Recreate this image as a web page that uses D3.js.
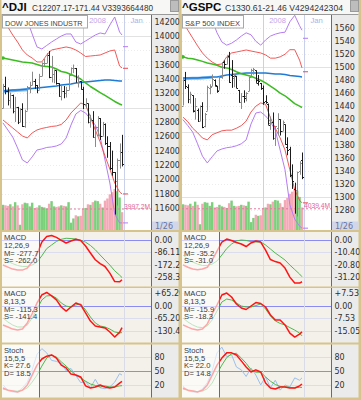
<!DOCTYPE html>
<html><head><meta charset="utf-8">
<script src="https://cdn.jsdelivr.net/npm/d3@7/dist/d3.min.js"></script>
<style>html,body{margin:0;padding:0;background:#d6c48c;}svg{display:block;}</style>
</head><body>
<svg id="chart" width="361" height="400"></svg>
<script>
// ---------- shared time axis ----------
const days = ["11/13","11/14","11/15","11/16","11/19","11/20","11/21","11/23","11/26","11/27","11/28","11/29","11/30","12/3","12/4","12/5","12/6","12/7","12/10","12/11","12/12","12/13","12/14","12/17","12/18","12/19","12/20","12/21","12/24","12/26","12/27","12/28","12/31","1/2","1/3","1/4","1/7","1/8","1/9","1/10","1/11","1/14","1/15","1/16","1/17","1/18","1/22","1/23","1/24","1/25"];
const gridIdx = [33, 50];
const gridLabels = ["2008", "Jan"];
const lastDateLabel = "1/26";
const lineIdx = [0,2,4,6,8,10,12,14,16,18,20,22,24,26,28,30,32,34,36,38,40,42,44,46,48,49];
const thickIdxL = [0,2,4,6,8,10];
const thickIdxR = [0,2,4,6,8,10,12];

// ---------- ^DJI ----------
const djiOpen  = [12990,13307,13231,13110,13177,12958,13010,12799,12981,12743,12958,13289,13312,13372,13315,13249,13445,13620,13626,13727,13433,13474,13518,13340,13167,13232,13207,13246,13451,13549,13552,13360,13366,13265,13044,13057,12800,12827,12589,12735,12853,12606,12778,12501,12466,12159,12099,11971,12270,12379];
const djiHigh  = [13330,13430,13280,13210,13180,13150,13010,12990,13060,12970,13300,13360,13500,13400,13315,13470,13630,13680,13760,13790,13720,13530,13518,13340,13320,13300,13290,13470,13560,13600,13552,13450,13366,13290,13130,13057,12900,12950,12740,12880,12853,12800,12778,12600,12520,12400,12100,12290,12500,12620];
const djiLow   = [12990,13185,13030,12990,12920,12800,12770,12799,12730,12720,12958,13200,13310,13260,13200,13249,13440,13580,13620,13410,13350,13340,13320,13150,13100,13130,13140,13246,13450,13480,13350,13280,13250,12980,12990,12780,12720,12580,12450,12600,12550,12606,12480,12300,12130,12050,11508,11634,12150,12180];
const djiClose = [13307,13231,13110,13177,12958,13010,12799,12981,12743,12958,13289,13312,13372,13315,13249,13445,13620,13626,13727,13433,13474,13518,13340,13167,13232,13207,13246,13451,13549,13552,13360,13366,13265,13044,13057,12800,12827,12589,12735,12853,12606,12778,12501,12466,12159,12099,11971,12270,12379,12207.17];
const djiVol   = [4800,4700,4600,4900,4500,5300,4700,1000,4900,5200,5100,4500,5200,4200,4300,4700,4400,4300,4100,5000,5500,4500,4400,4500,4700,4600,4500,5300,1400,2200,2800,2600,2700,4100,4200,4900,4800,5300,5600,5500,5000,4300,5600,6000,6800,7200,7800,7400,6200,3394];
const djiTicks = [14200,14000,13800,13600,13400,13200,13000,12800,12600,12400,12200,12000,11800,11600];
const djiBandUp1 = [14221,14123,14012,13914,13803,13733,13691,13636,13636,13733,13803,13817,13831,13845,13831,13803,13761,13712,13719,13726,13733,13761,13789,13803,13580,13552];
const djiBandUp2 = [14709,14639,14569,14500,14388,14221,14026,13845,13817,13866,13914,13956,13998,14026,14026,13914,13886,13928,13970,14012,14040,14026,14151,14263,14054,14012];
const djiBandLo1 = [12827,12771,12716,12660,12604,12576,12646,12688,12709,12723,12737,12744,12765,12827,12925,12994,13064,13036,12869,12688,12521,12325,12143,11949,11824,11796];
const djiBandLo2 = [12785,12688,12590,12437,12270,12228,12312,12409,12423,12444,12451,12465,12493,12576,12757,12911,12960,12925,12841,12757,12590,12270,11949,11517,11392,11392];
const djiMA25 = [13691,13677,13663,13649,13636,13629,13622,13601,13580,13573,13566,13538,13503,13489,13461,13433,13399,13343,13294,13252,13210,13169,13127,13085,13050,13036];
const djiMA75 = [13231,13238,13245,13245,13252,13259,13266,13273,13280,13287,13294,13301,13315,13322,13329,13343,13350,13357,13364,13371,13378,13385,13385,13378,13371,13371];
const djiMA200 = [13225,13230,13236,13240,13245,13250];
const djiNext = [13849,13548,11796,11392];
const djiMacd = [-175,-189,-203,-210,-210,-196,-154,-98,-14,24,31,18,-2,-21,-7,5,-4,-42,-91,-138,-165,-185,-231,-290,-292,-277.7];
const djiSig  = [-130,-150,-165,-178,-185,-185,-175,-155,-110,-60,-35,-10,5,12,10,7,-2,-15,-38,-68,-105,-140,-175,-215,-245,-262.0];
const djiMacdB = [-102,-112,-123,-128,-123,-91,-44,13,55,68,50,29,-8,-29,-8,13,3,-39,-81,-107,-112,-117,-138,-164,-140,-115.3];
const djiSigB  = [-65,-86,-102,-112,-112,-102,-65,-18,29,50,52,39,13,-3,-8,3,8,-23,-60,-91,-107,-112,-123,-138,-143,-141.4];
const djiK  = [13.6,9,7,5,9,20,41,62,75,81,83.5,77,62,56,43,41,37,18,13.6,15.7,20,15.7,13.6,15.7,24,27.6];
const djiD  = [11,9,7,7,9,13.6,26,41,60,77,83.5,79,69,60,50,41,35,28,22,19,15.7,18,15.7,15.7,18,18.5];
const djiFK = [20,9,5,5,14,26,52,85,97,88,72,70,66,50,55,40,25,27,14,32,14,12,16,26,44,41];
const djiM1Ticks = [0,-86.11,-172.2,-258.3];
const djiM1Labels = ["0.00","-86.11","-172.2","-258.3"];
const djiM2Ticks = [65.2,0,-65.2,-130.4];
const djiM2Labels = ["+65.20","0.00","-65.20","-130.4"];

// ---------- ^GSPC ----------
const spxOpen  = [1441,1481,1470,1451,1456.7,1434.5,1434.7,1417,1440.7,1409.6,1432.9,1467.4,1471.8,1479.6,1471.3,1465.2,1484.6,1508.6,1505.1,1516.7,1487.6,1483.3,1486.2,1465,1445.9,1455,1456.4,1463.2,1484.6,1495.1,1495.1,1479.8,1475.3,1468,1447.6,1444,1414,1415.7,1390.3,1406.8,1419.9,1401.8,1411.9,1377.4,1374.6,1333.9,1312.9,1310.4,1340.1,1357.3];
const spxHigh  = [1481.4,1492.8,1473.6,1462.2,1456.7,1452.6,1436.4,1440.9,1446.1,1429.5,1471.6,1473.8,1488.9,1481.2,1471.3,1486.1,1508,1510.6,1518.3,1523.6,1511,1489.4,1486.7,1465,1460.2,1464.4,1461.5,1485.4,1497.6,1498.9,1495.1,1488,1475.8,1471.8,1456.8,1444,1423.9,1430.3,1409.2,1429.1,1419.9,1417.9,1411.9,1392,1377.4,1350.3,1322.1,1339.1,1355.2,1368.6];
const spxLow   = [1441,1466.5,1444.6,1443.9,1430.4,1419.3,1415.6,1417,1406.1,1407.4,1432.9,1458.4,1470.9,1470.1,1460.7,1465.2,1482.2,1497.7,1504.7,1475.8,1468.2,1469.2,1467.8,1445.4,1435.7,1445.3,1447.5,1463.2,1484.6,1488.5,1475.9,1471.7,1465.1,1442.1,1443.7,1411.2,1403.5,1388.3,1378.7,1395.3,1394.8,1401.8,1380.6,1364.3,1330.7,1312.5,1274.3,1270.05,1334.3,1327.5];
const spxClose = [1481.05,1470.58,1451.15,1458.74,1433.27,1439.70,1416.77,1440.70,1407.22,1428.23,1469.02,1469.72,1481.14,1472.42,1462.79,1485.01,1507.34,1504.66,1515.96,1477.65,1486.59,1488.41,1467.95,1445.90,1454.98,1453.00,1460.12,1484.46,1496.45,1497.66,1476.27,1478.49,1468.36,1447.16,1447.16,1411.63,1416.18,1390.19,1409.13,1420.33,1401.02,1416.25,1380.95,1373.20,1333.25,1325.19,1310.50,1338.60,1352.07,1330.61];
const spxVol   = [4900,4800,4700,5000,4600,5400,4800,1100,5000,5300,5200,4600,5300,4300,4400,4800,4500,4400,4200,5100,5600,4600,4500,4600,4800,4700,4600,5400,1500,2300,2900,2700,2800,4200,4300,5000,4900,5400,5700,5600,5100,4400,5700,6100,6900,7300,7900,7500,6300,4294];
const spxTicks = [1560,1540,1520,1500,1480,1460,1440,1420,1400,1380,1360,1340,1320,1300,1280];
const spxBandUp1 = [1570,1557,1545,1533,1522,1514,1508,1504,1505,1516,1522,1523.5,1525,1526.6,1525,1523.5,1522,1519,1514,1514,1516,1520,1527,1527,1511,1499];
const spxBandUp2 = [1634,1627,1619,1611,1604,1591,1573,1553,1539,1534,1537,1542,1548,1553,1550,1540,1534,1542,1548,1551,1553,1554,1570,1580,1564,1557];
const spxBandLo1 = [1423,1416,1406,1399,1391,1388,1396,1399,1402,1403,1403,1406,1410,1417,1431,1440,1445,1443,1422,1406,1391,1372.5,1342,1311,1295,1291];
const spxBandLo2 = [1419,1410,1400,1382,1363,1352.5,1362,1371,1374,1376,1377,1379,1382,1388,1412.5,1429.5,1431,1425,1416,1403,1372.5,1342,1288,1266,1255,1252];
const spxMA25 = [1516,1514,1513,1511,1509,1506.5,1505,1503,1500,1499,1496.5,1493,1490,1488,1486,1483,1480,1476,1471,1466,1460,1456,1450,1444,1440,1438];
const spxMA75 = [1483.4,1483.4,1483.4,1483.4,1484.2,1484.2,1485,1485,1486.5,1488,1488.8,1489.6,1490.4,1491.1,1491.1,1491.1,1491.1,1491.1,1490.4,1489.6,1489.6,1488.8,1487.3,1486.5,1485.7,1485];
const spxMA200 = [1482,1482.5,1483,1483,1483.5,1484,1484.5];
const spxNext = [1544.6,1493,1291,1252];
const spxMacd = [-21,-23,-24.5,-25,-24.5,-23,-17,-9.3,-1.7,0.8,-0.4,-2.1,-3.4,-5.5,-2.5,-0.8,-1.7,-8.5,-16.5,-18.2,-19.4,-23.7,-31.3,-36.3,-36.3,-35.2];
const spxSig  = [-12.7,-16,-18.6,-20.3,-21.5,-21.5,-20.3,-17.7,-12.7,-7.2,-3.4,-0.8,0,-0.4,-1.3,-1.7,-1.7,-4.2,-7.6,-11,-13.9,-16.9,-21.1,-24.9,-28.7,-31.0];
const spxMacdB = [-11.7,-13,-14.2,-14.8,-14.2,-11.1,-5.1,0.3,6.3,7.5,5.1,0.9,-1.5,-2.4,-0.3,1.8,1.2,-0.9,-5.7,-8.7,-8.7,-11.7,-16.6,-19,-17.2,-15.9];
const spxSigB  = [-7.5,-9.9,-11.7,-13,-13.3,-12.3,-8.7,-3.3,2.1,3.9,3.3,1.5,-0.3,-0.9,-0.9,0,0.9,-2.1,-6.3,-9.3,-10.8,-11.7,-13.3,-14.8,-16.6,-18.3];
const spxK  = [13.6,9,7,5,9,20,41,62,77,88,88,83.5,71,58,47.5,52,47.5,24,13.6,11.4,15.7,15.7,13.6,13.6,18,22.0];
const spxD  = [11,9,7,6,7,12,24,44,62,78,86,87,77,66,52,47,47,37,28,21,17,16,15,13.6,15,14.8];
const spxFK = [18,8,5,5,12,25,50,88,100,80,84,58,52,38,56,41,20,37,14,30,9,20,16,35,30,35];
const spxM1Ticks = [0,-10.40,-20.80,-31.20];
const spxM1Labels = ["0.00","-10.40","-20.80","-31.20"];
const spxM2Ticks = [7.53,0,-7.53,-15.05];
const spxM2Labels = ["+7.53","0.00","-7.53","-15.05"];

const stochTicks = [80,50,20];
const stochLabels = ["80","50","20"];

// ---------- drawing ----------
const svg = d3.select('#chart');
svg.append('rect').attr('width',361).attr('height',400).attr('fill','#d6c48c');
const defs = svg.append('defs');
const SANS = "'Liberation Sans', Arial, sans-serif";
const AXF = "'DejaVu Sans', Verdana, sans-serif";

function drawPanel(dx, c, id) {
  const g = svg.append('g').attr('transform', `translate(${dx},0)`);
  const PX0 = 2, PX1 = 151.5, AX1 = 178.5;
  const xs = d3.scaleLinear().domain([0, days.length - 1]).range([3, 122]);
  const clipRect = (name, x, y0, w, y1) => {
    defs.append('clipPath').attr('id', id + name).append('rect')
      .attr('x', x).attr('y', y0).attr('width', w).attr('height', y1 - y0);
    return `url(#${id + name})`;
  };
  const clip = (name, y0, y1) => clipRect(name, PX0, y0, PX1 - PX0, y1);
  const line = (ys) => d3.line().x(d => xs(d[0])).y(d => ys(d[1]));
  const pts = (idx, vals) => idx.map((k, j) => [k, vals[j]]);
  const drawLine = (gg, ys, idx, vals, col, w, op) =>
    gg.append('path').datum(pts(idx, vals)).attr('d', line(ys))
      .attr('fill','none').attr('stroke', col).attr('stroke-width', w)
      .attr('stroke-linejoin','round').attr('stroke-opacity', op || 1);
  const axis = (ys, ticks, labels, y0, y1, key) => {
    const holder = g.append('g').attr('clip-path', clipRect('ax' + key, PX1, y0, AX1 - PX1 + 1, y1));
    const a = holder.append('g').attr('transform', `translate(${PX1},0)`)
      .call(d3.axisRight(ys).tickValues(ticks).tickFormat((d, i) => labels[i]).tickSize(0).tickPadding(3));
    a.attr('font-family', AXF).attr('font-size', 8);
    a.select('.domain').remove();
    a.selectAll('text').attr('fill', '#2f2f2f');
  };
  const subBox = (y0, y1, bg) => {
    g.append('rect').attr('x', PX0).attr('y', y0).attr('width', PX1 - PX0).attr('height', y1 - y0).attr('fill', bg);
    g.append('rect').attr('x', PX1).attr('y', y0).attr('width', AX1 - PX1).attr('height', y1 - y0).attr('fill', '#ebebeb');
  };

  // title row
  g.append('rect').attr('x', 1.5).attr('y', 0).attr('width', AX1 - 1.5).attr('height', 14).attr('fill', '#f7f7f5');
  g.append('text').attr('x', 2).attr('y', 11).attr('font-family', SANS).attr('font-weight', 'bold')
    .attr('font-size', 11.5).attr('fill', '#0a0a0a').text(c.sym);
  g.append('text').attr('x', c.infoX).attr('y', 10.5).attr('font-family', SANS).attr('font-size', 8.2)
    .attr('fill', '#333').attr('textLength', c.infoLen).attr('lengthAdjust', 'spacingAndGlyphs').text(c.info);
  g.append('rect').attr('x', 170.5).attr('y', 0.5).attr('width', 8).attr('height', 11).attr('fill', '#bdbdbd').attr('stroke', '#9a9a9a');

  // ---- price panel ----
  const PT = 14, PB = 230;
  subBox(PT, PB, '#ffffff');
  const ys = d3.scaleLinear().domain(c.pDom).range(c.pRange);
  const vy = d3.scaleLinear().domain([0, 8000]).range([PB, 188]);
  const gp = g.append('g').attr('clip-path', clip('p', PT, PB));
  gp.selectAll('line.hg').data(c.pTicks).join('line')
    .attr('x1', PX0).attr('x2', PX1).attr('y1', d => Math.round(ys(d)) + 0.5).attr('y2', d => Math.round(ys(d)) + 0.5)
    .attr('stroke', d => d % c.pMajor === 0 ? '#e2e2e2' : '#ececec')
    .attr('stroke-dasharray', d => d % c.pMajor === 0 ? null : '1,2');
  gp.selectAll('line.vg').data(gridIdx).join('line')
    .attr('x1', d => Math.round(xs(d)) + 0.5).attr('x2', d => Math.round(xs(d)) + 0.5)
    .attr('y1', PT).attr('y2', PB).attr('stroke', '#c9d0ec');
  gp.selectAll('rect.vol').data(c.vol).join('rect')
    .attr('x', (d, i) => xs(i) - 1.215).attr('width', 2.43)
    .attr('y', d => vy(d)).attr('height', d => vy(0) - vy(d))
    .attr('fill', (d, i) => c.close[i] >= (i ? c.close[i - 1] : c.open[i]) ? '#7bd07b' : '#f5a8b6');
  gp.append('line').attr('x1', PX0).attr('x2', PX1).attr('y1', vy(c.volAvg)).attr('y2', vy(c.volAvg))
    .attr('stroke', '#e27aa0').attr('stroke-dasharray', '2,2');
  gp.selectAll('text.tl').data(gridIdx).join('text')
    .attr('x', d => xs(d) + 6).attr('y', 22.5).attr('font-family', SANS).attr('font-size', 7.6)
    .attr('fill', (d, i) => i === 0 ? '#c7a4ea' : '#a7b4e8').text((d, i) => gridLabels[i]);
  drawLine(gp, ys, lineIdx, c.up2, '#b57cf2', 1);
  drawLine(gp, ys, lineIdx, c.lo2, '#b57cf2', 1);
  drawLine(gp, ys, lineIdx, c.up1, '#f04646', 0.9);
  drawLine(gp, ys, lineIdx, c.lo1, '#f04646', 0.9);
  drawLine(gp, ys, c.thickIdx, c.ma200, '#78b6ee', 3);
  drawLine(gp, ys, lineIdx, c.ma75, '#1f7bd4', 1.5);
  drawLine(gp, ys, lineIdx, c.ma25, '#3cbc22', 1.5);
  gp.append('circle').attr('cx', xs(0)).attr('cy', ys(c.ma25[0])).attr('r', 1.8).attr('fill', '#3cbc22');
  const nextCols = ['#b57cf2', '#f04646', '#f04646', '#b57cf2'];
  gp.selectAll('line.nx').data(c.next).join('line')
    .attr('x1', xs(days.length - 1) + 1).attr('x2', xs(days.length - 1) + 6)
    .attr('y1', d => ys(d)).attr('y2', d => ys(d)).attr('stroke', (d, i) => nextCols[i]);
  const bg = gp.selectAll('g.bar').data(days).join('g')
    .attr('stroke', (d, i) => c.close[i] < c.open[i] ? '#1c1c1c' : '#8a8a8a');
  bg.append('line').attr('x1', (d, i) => Math.round(xs(i)) + 0.5).attr('x2', (d, i) => Math.round(xs(i)) + 0.5)
    .attr('y1', (d, i) => ys(c.high[i])).attr('y2', (d, i) => ys(c.low[i]));
  bg.append('line').attr('x1', (d, i) => Math.round(xs(i)) - 1).attr('x2', (d, i) => Math.round(xs(i)) + 0.5)
    .attr('y1', (d, i) => Math.round(ys(c.open[i])) + 0.5).attr('y2', (d, i) => Math.round(ys(c.open[i])) + 0.5);
  bg.append('line').attr('x1', (d, i) => Math.round(xs(i)) + 0.5).attr('x2', (d, i) => Math.round(xs(i)) + 2)
    .attr('y1', (d, i) => Math.round(ys(c.close[i])) + 0.5).attr('y2', (d, i) => Math.round(ys(c.close[i])) + 0.5);
  g.append('rect').attr('x', 2.5).attr('y', 15.5).attr('width', c.legendW).attr('height', 12.5)
    .attr('fill', '#ffffff').attr('stroke', '#a8a8a8');
  g.append('text').attr('x', 5).attr('y', 25.5).attr('font-family', SANS).attr('font-size', c.legendFs)
    .attr('fill', '#444').text(c.legend);
  g.append('text').attr('x', 124).attr('y', vy(c.volAvg) - 0.5).attr('font-family', SANS).attr('font-size', 8)
    .attr('fill', '#e0649a').attr('textLength', 26).attr('lengthAdjust', 'spacingAndGlyphs').text(c.volLabel);
  axis(ys, c.pTicks, c.pTicks.map(String), PT, PB, 'p');
  g.append('rect').attr('x', PX1).attr('y', 221.5).attr('width', AX1 - PX1).attr('height', 8.5).attr('fill', '#d2d6e8');
  g.append('text').attr('x', 155).attr('y', 229.3).attr('font-family', AXF).attr('font-size', 8)
    .attr('fill', '#6674a6').text(lastDateLabel);
  g.append('line').attr('x1', PX1).attr('x2', PX1).attr('y1', PT).attr('y2', PB).attr('stroke', '#6b6b6b');
  g.append('line').attr('x1', PX0).attr('x2', AX1).attr('y1', PT + 0.5).attr('y2', PT + 0.5).attr('stroke', '#9a9a9a');

  // ---- indicator panels ----
  const ind = (y0, y1, dom, rng, ticks, labels, zero, series, texts, key) => {
    subBox(y0, y1, '#f3f1ea');
    const iy = d3.scaleLinear().domain(dom).range(rng);
    const gi = g.append('g').attr('clip-path', clip(key, y0, y1));
    gi.selectAll('line.hg').data(ticks).join('line')
      .attr('x1', PX0).attr('x2', PX1).attr('y1', d => Math.round(iy(d)) + 0.5).attr('y2', d => Math.round(iy(d)) + 0.5)
      .attr('stroke', d => d === zero ? '#8b8bf4' : '#dcdcef');
    gi.selectAll('line.vg').data(gridIdx).join('line')
      .attr('x1', d => Math.round(xs(d)) + 0.5).attr('x2', d => Math.round(xs(d)) + 0.5)
      .attr('y1', y0).attr('y2', y1).attr('stroke', '#d9dbe9');
    series.forEach(s => drawLine(gi, iy, lineIdx, s.v, s.c, s.w));
    gi.append('rect').attr('x', PX0).attr('y', y0).attr('width', 37.5).attr('height', y1 - y0)
      .attr('fill', '#ffffff').attr('fill-opacity', 0.62);
    g.append('line').attr('x1', 39.5).attr('x2', 39.5).attr('y1', y0).attr('y2', y1).attr('stroke', '#6b6b6b');
    g.selectAll(null).data(texts).join('text')
      .attr('x', 4).attr('y', (d, i) => y0 + 8.3 + i * 7.7).attr('font-family', SANS).attr('font-size', 7.6)
      .attr('fill', '#3a3a3a').text(d => d);
    axis(iy, ticks, labels, y0, y1, key);
    g.append('line').attr('x1', PX1).attr('x2', PX1).attr('y1', y0).attr('y2', y1).attr('stroke', '#6b6b6b');
  };
  ind(232, 286.5, c.m1.dom, [277, 240], c.m1.ticks, c.m1.labels, 0,
      [{v: c.m1.sig, c: '#4fb84f', w: 1}, {v: c.m1.macd, c: '#ff1414', w: 1.5}], c.m1.text, 'm1');
  ind(288, 342.5, c.m2.dom, [330.5, 293], c.m2.ticks, c.m2.labels, 0,
      [{v: c.m2.sig, c: '#4fb84f', w: 1}, {v: c.m2.macd, c: '#ff1414', w: 1.5}], c.m2.text, 'm2');
  ind(344.5, 397.5, [0, 100], [394.4, 347.2], stochTicks, stochLabels, 50,
      [{v: c.st.fk, c: '#9cbfea', w: 1}, {v: c.st.d, c: '#4fb84f', w: 1}, {v: c.st.k, c: '#ff1414', w: 1.5}], c.st.text, 'st');
}

drawPanel(0, {
  sym: '^DJI', info: 'C12207.17-171.44 V3393664480', infoX: 32, infoLen: 121,
  legend: 'DOW JONES INDUSTR', legendW: 85, legendFs: 7.2,
  open: djiOpen, high: djiHigh, low: djiLow, close: djiClose, vol: djiVol, volAvg: 3997.2, volLabel: '3997.2M',
  pDom: [11600, 14200], pRange: [208, 21.5], pTicks: djiTicks, pMajor: 1000,
  up1: djiBandUp1, up2: djiBandUp2, lo1: djiBandLo1, lo2: djiBandLo2, ma25: djiMA25, ma75: djiMA75,
  thickIdx: thickIdxL, ma200: djiMA200, next: djiNext,
  m1: {dom: [-258.3, 0], ticks: djiM1Ticks, labels: djiM1Labels, macd: djiMacd, sig: djiSig, text: ['MACD', '12,26,9', 'M= -277.7', 'S= -262.0']},
  m2: {dom: [-130.4, 65.2], ticks: djiM2Ticks, labels: djiM2Labels, macd: djiMacdB, sig: djiSigB, text: ['MACD', '8,13,5', 'M= -115.3', 'S= -141.4']},
  st: {k: djiK, d: djiD, fk: djiFK, text: ['Stoch', '15,5,5', 'K= 27.6', 'D= 18.5']}
}, 'L');

drawPanel(180, {
  sym: '^GSPC', info: 'C1330.61-21.46 V4294242304', infoX: 45, infoLen: 118,
  legend: 'S&P 500 INDEX', legendW: 61, legendFs: 7.6,
  open: spxOpen, high: spxHigh, low: spxLow, close: spxClose, vol: spxVol, volAvg: 4039.4, volLabel: '4039.4M',
  pDom: [1280, 1560], pRange: [210, 28.3], pTicks: spxTicks, pMajor: 100,
  up1: spxBandUp1, up2: spxBandUp2, lo1: spxBandLo1, lo2: spxBandLo2, ma25: spxMA25, ma75: spxMA75,
  thickIdx: thickIdxR, ma200: spxMA200, next: spxNext,
  m1: {dom: [-31.2, 0], ticks: spxM1Ticks, labels: spxM1Labels, macd: spxMacd, sig: spxSig, text: ['MACD', '12,26,9', 'M= -35.2', 'S= -31.0']},
  m2: {dom: [-15.05, 7.53], ticks: spxM2Ticks, labels: spxM2Labels, macd: spxMacdB, sig: spxSigB, text: ['MACD', '8,13,5', 'M= -15.9', 'S= -18.3']},
  st: {k: spxK, d: spxD, fk: spxFK, text: ['Stoch', '15,5,5', 'K= 22.0', 'D= 14.8']}
}, 'R');
</script>
</body></html>
